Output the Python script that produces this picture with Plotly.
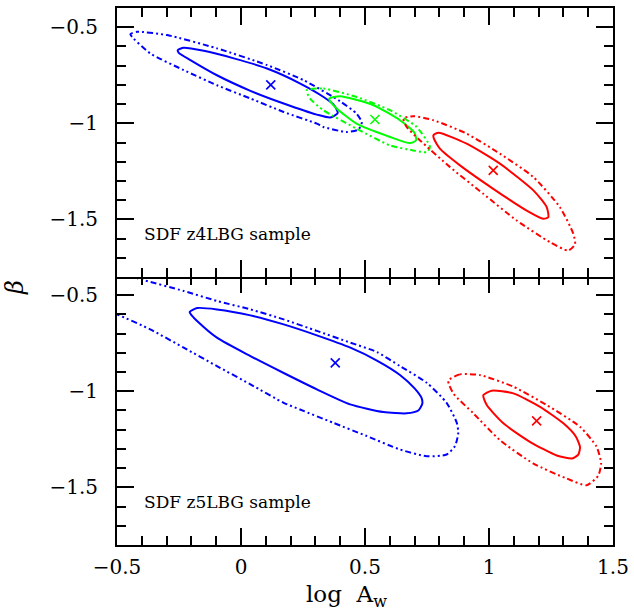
import plotly.graph_objects as go

# ---------------- data ----------------
# Top panel: SDF z4LBG sample
z4_blue_best_x = [0.12]
z4_blue_best_y = [-0.80]
z4_blue_in_x = [-0.255, -0.231, -0.150, -0.029, 0.105, 0.239, 0.333, 0.375, 0.390, 0.360, 0.306, 0.172, 0.038, -0.097, -0.204, -0.251, -0.255]
z4_blue_in_y = [-0.619, -0.607, -0.623, -0.662, -0.715, -0.793, -0.863, -0.905, -0.946, -0.970, -0.955, -0.897, -0.831, -0.750, -0.671, -0.633, -0.619]
z4_blue_out_x = [-0.446, -0.419, -0.298, -0.097, 0.105, 0.253, 0.399, 0.466, 0.487, 0.473, 0.426, 0.332, 0.306, 0.172, 0.038, -0.097, -0.231, -0.366, -0.446]
z4_blue_out_y = [-0.536, -0.524, -0.541, -0.610, -0.697, -0.776, -0.885, -0.950, -0.995, -1.033, -1.045, -1.019, -1.002, -0.941, -0.871, -0.802, -0.723, -0.636, -0.536]

z4_green_best_x = [0.54]
z4_green_best_y = [-0.98]
z4_green_in_x = [0.356, 0.399, 0.534, 0.641, 0.700, 0.706, 0.681, 0.601, 0.466, 0.386, 0.359, 0.356]
z4_green_in_y = [-0.871, -0.859, -0.906, -0.984, -1.050, -1.089, -1.103, -1.071, -1.002, -0.923, -0.884, -0.871]
z4_green_out_x = [0.265, 0.332, 0.466, 0.601, 0.708, 0.762, 0.749, 0.695, 0.601, 0.466, 0.332, 0.278, 0.265]
z4_green_out_y = [-0.828, -0.819, -0.863, -0.932, -1.019, -1.123, -1.150, -1.141, -1.115, -1.028, -0.932, -0.871, -0.828]

z4_red_best_x = [1.017]
z4_red_best_y = [-1.245]
z4_red_in_x = [0.776, 0.796, 0.910, 1.044, 1.179, 1.233, 1.239, 1.219, 1.152, 1.017, 0.883, 0.802, 0.778, 0.776]
z4_red_in_y = [-1.062, -1.049, -1.106, -1.210, -1.349, -1.437, -1.489, -1.497, -1.454, -1.341, -1.219, -1.132, -1.080, -1.062]
z4_red_out_x = [0.655, 0.695, 0.776, 0.910, 1.044, 1.179, 1.286, 1.340, 1.347, 1.320, 1.246, 1.112, 0.977, 0.843, 0.722, 0.668, 0.655]
z4_red_out_y = [-0.975, -0.963, -0.984, -1.054, -1.158, -1.280, -1.437, -1.575, -1.630, -1.662, -1.619, -1.506, -1.367, -1.228, -1.089, -1.019, -0.975]

# Bottom panel: SDF z5LBG sample
z5_blue_best_x = [0.380]
z5_blue_best_y = [-0.852]
z5_blue_in_x = [-0.207, -0.177, -0.097, 0.038, 0.172, 0.306, 0.441, 0.548, 0.641, 0.700, 0.728, 0.731, 0.715, 0.668, 0.574, 0.440, 0.306, 0.172, 0.038, -0.097, -0.177, -0.202, -0.207]
z5_blue_in_y = [-0.588, -0.567, -0.574, -0.605, -0.652, -0.709, -0.773, -0.840, -0.915, -0.985, -1.035, -1.065, -1.100, -1.115, -1.108, -1.068, -0.990, -0.905, -0.817, -0.721, -0.634, -0.600, -0.588]
z5_blue_out_x = [-0.70, -0.55, -0.394, -0.231, -0.097, 0.038, 0.172, 0.306, 0.441, 0.548, 0.641, 0.749, 0.829, 0.870, 0.876, 0.863, 0.829, 0.749, 0.641, 0.507, 0.372, 0.238, 0.172, 0.038, -0.097, -0.231, -0.366, -0.50, -0.65, -0.70]
z5_blue_out_y = [-0.45, -0.365, -0.421, -0.478, -0.530, -0.574, -0.626, -0.686, -0.747, -0.796, -0.869, -0.956, -1.060, -1.164, -1.216, -1.285, -1.329, -1.338, -1.303, -1.233, -1.164, -1.095, -1.060, -0.964, -0.869, -0.773, -0.678, -0.600, -0.53, -0.45]

z5_red_best_x = [1.192]
z5_red_best_y = [-1.154]
z5_red_in_x = [0.977, 1.011, 1.098, 1.206, 1.300, 1.350, 1.367, 1.360, 1.335, 1.273, 1.165, 1.058, 0.991, 0.977]
z5_red_in_y = [-1.020, -0.997, -1.011, -1.081, -1.167, -1.235, -1.290, -1.330, -1.350, -1.334, -1.263, -1.167, -1.072, -1.020]
z5_red_out_x = [0.836, 0.883, 0.964, 1.098, 1.233, 1.367, 1.434, 1.452, 1.440, 1.394, 1.313, 1.179, 1.044, 0.937, 0.856, 0.836]
z5_red_out_y = [-0.945, -0.912, -0.916, -0.976, -1.072, -1.185, -1.289, -1.376, -1.440, -1.489, -1.454, -1.376, -1.254, -1.115, -1.011, -0.945]

x_range = [-0.5, 1.5]
y_range = [-1.8, -0.4]
panel_labels = ["SDF z4LBG sample", "SDF z5LBG sample"]

BLUE, GREEN, RED = "#0000ff", "#00ff00", "#ff0000"
OUTER_DASH = "2px,3px,2px,3px,6px,3px"

fig = go.Figure()


def add_set(xin, yin, xout, yout, bx, by, color, xa, ya):
    fig.add_trace(go.Scatter(x=xout, y=yout, mode="lines", xaxis=xa, yaxis=ya,
                             line=dict(color=color, width=2, dash=OUTER_DASH, shape="spline", smoothing=0.6),
                             showlegend=False, hoverinfo="skip"))
    fig.add_trace(go.Scatter(x=xin, y=yin, mode="lines", xaxis=xa, yaxis=ya,
                             line=dict(color=color, width=2, shape="spline", smoothing=0.6),
                             showlegend=False, hoverinfo="skip"))
    fig.add_trace(go.Scatter(x=bx, y=by, mode="markers", xaxis=xa, yaxis=ya,
                             marker=dict(symbol="x-thin", size=9, line=dict(color=color, width=1.6)),
                             showlegend=False))


# top panel uses x2/y2
add_set(z4_blue_in_x, z4_blue_in_y, z4_blue_out_x, z4_blue_out_y, z4_blue_best_x, z4_blue_best_y, BLUE, "x2", "y2")
add_set(z4_green_in_x, z4_green_in_y, z4_green_out_x, z4_green_out_y, z4_green_best_x, z4_green_best_y, GREEN, "x2", "y2")
add_set(z4_red_in_x, z4_red_in_y, z4_red_out_x, z4_red_out_y, z4_red_best_x, z4_red_best_y, RED, "x2", "y2")
# bottom panel uses x/y
add_set(z5_blue_in_x, z5_blue_in_y, z5_blue_out_x, z5_blue_out_y, z5_blue_best_x, z5_blue_best_y, BLUE, "x", "y")
add_set(z5_red_in_x, z5_red_in_y, z5_red_out_x, z5_red_out_y, z5_red_best_x, z5_red_best_y, RED, "x", "y")

TICKFONT = dict(family="DejaVu Serif", size=20, color="black")
minor = dict(dtick=0.1, ticklen=9, tickwidth=1.6, ticks="inside", tickcolor="black", showgrid=False)
common = dict(showline=True, linewidth=2, linecolor="black", mirror="ticks",
              ticks="inside", ticklen=17, tickwidth=1.6, tickcolor="black",
              showgrid=False, zeroline=False, dtick=0.5, tick0=0, automargin=False,
              tickfont=TICKFONT, minor=minor)

fig.update_layout(
    width=634, height=615,
    margin=dict(l=117, r=21, t=8, b=70),
    paper_bgcolor="white", plot_bgcolor="white",
    xaxis=dict(domain=[0, 1], anchor="y", range=x_range, ticklabelstandoff=3, **common),
    yaxis=dict(domain=[0, 0.501], anchor="x", range=y_range, ticklabelstandoff=13, **common),
    xaxis2=dict(domain=[0, 1], anchor="y2", range=x_range, matches="x", showticklabels=False, **common),
    yaxis2=dict(domain=[0.499, 1], anchor="x2", range=y_range, ticklabelstandoff=13, **common),
    annotations=[
        dict(text=panel_labels[0], x=-0.4, y=-1.575, xref="x2", yref="y2", xanchor="left", yanchor="middle",
             showarrow=False, font=dict(family="DejaVu Serif", size=17, color="black")),
        dict(text=panel_labels[1], x=-0.4, y=-1.577, xref="x", yref="y", xanchor="left", yanchor="middle",
             showarrow=False, font=dict(family="DejaVu Serif", size=17, color="black")),
        dict(text="log  A<sub>w</sub>", x=0.4637, y=-0.095, xref="paper", yref="paper",
             xanchor="center", yanchor="middle", showarrow=False,
             font=dict(family="DejaVu Serif", size=23, color="black")),
        dict(text="<i>β</i>", x=-0.2056, y=0.4786, xref="paper", yref="paper", textangle=-90,
             xanchor="center", yanchor="middle", showarrow=False,
             font=dict(family="DejaVu Serif", size=24, color="black")),
    ],
)

fig.write_html("out.html", config={"displayModeBar": False},
               post_script="document.body.style.margin='0px';")
